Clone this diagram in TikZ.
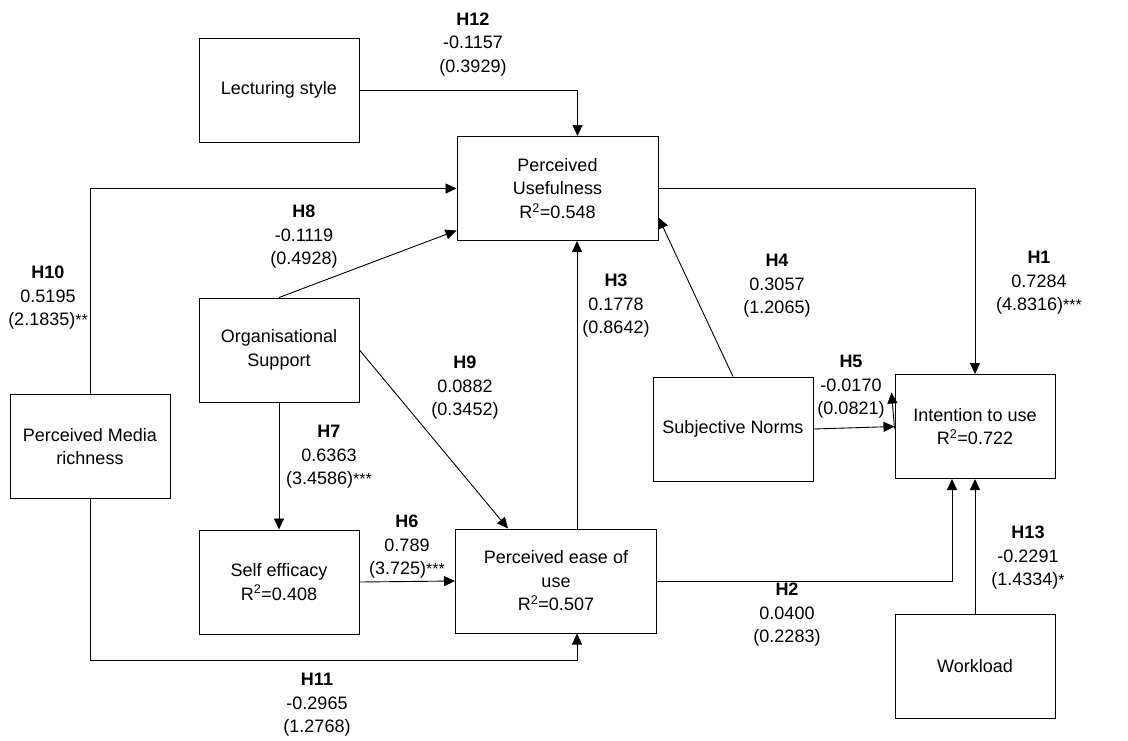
\documentclass[tikz,border=0pt]{standalone}
\usepackage{fontspec}
\setmainfont{Liberation Sans}
\usepackage{tikz}
\usetikzlibrary{positioning, arrows.meta}
\tikzset{
    x=1pt, y=-1pt, % one unit is one pixel, y runs downwards
    >={Triangle[length=11pt, width=10pt]}, % filled arrow heads
}
\tikzset{construct/.style={
        rectangle, draw=black, line width=1pt, minimum width=160pt, minimum height=104pt,
        align=center, inner sep=2pt, font=\fontsize{18}{23.5}\selectfont,
    }
}
\tikzset{wideconstruct/.style={construct, minimum width=201pt}}
\tikzset{hyp/.style={align=center, inner sep=0pt, font=\fontsize{18}{23.5}\selectfont}}
\tikzset{link/.style={->, line width=0.9pt}}
\newcommand{\Rsq}[1]{R\textsuperscript{2}=#1}
\newcommand{\sig}[1]{{\fontsize{16}{16}\selectfont #1}}

\begin{document}
\begin{tikzpicture}
        \useasboundingbox (0,0) rectangle (1128,740);
        % Nodes
        \node[construct] (LS) at (279,90) {Lecturing style};
        \node[wideconstruct] (PU) at (557.5,188.5) {Perceived\\Usefulness\\\Rsq{0.548}};
        \node[construct] (OS) at (279,350) {Organisational\\Support};
        \node[construct] (PMR) at (90,446.5) {Perceived Media\\richness};
        \node[construct, below=127pt of OS] (SE) {Self efficacy\\\Rsq{0.408}};
        \node[wideconstruct] (PEU) at (556,581) {Perceived ease of\\use\\\Rsq{0.507}};
        \node[construct] (SN) at (733,429) {Subjective Norms};
        \node[construct] (IU) at (975,426.5) {Intention to use\\\Rsq{0.722}};
        \node[construct, below=135pt of IU] (WL) {Workload};

        % Hypothesis labels
        \node[hyp] (H12) at (473,44.5) {\textbf{H12}\\-0.1157\\(0.3929)};
        \node[hyp] (H8) at (304,237) {\textbf{H8}\\-0.1119\\(0.4928)};
        \node[hyp] (H10) at (48,298) {\textbf{H10}\\0.5195\\(2.1835)\sig{**}};
        \node[hyp] (H9) at (465,388) {\textbf{H9}\\0.0882\\(0.3452)};
        \node[hyp] (H3) at (616,306) {\textbf{H3}\\0.1778\\(0.8642)};
        \node[hyp] (H4) at (777,286) {\textbf{H4}\\0.3057\\(1.2065)};
        \node[hyp] (H1) at (1039,283) {\textbf{H1}\\0.7284\\(4.8316)\sig{***}};
        \node[hyp] (H7) at (329,457) {\textbf{H7}\\0.6363\\(3.4586)\sig{***}};
        \node[hyp] (H6) at (407,547) {\textbf{H6}\\0.789\\(3.725)\sig{***}};
        \node[hyp] (H5) at (851,387) {\textbf{H5}\\-0.0170\\(0.0821)};
        \node[hyp] (H2) at (787,615) {\textbf{H2}\\0.0400\\(0.2283)};
        \node[hyp] (H13) at (1028,558) {\textbf{H13}\\-0.2291\\(1.4334)\sig{*}};
        \node[hyp] (H11) at (317,705) {\textbf{H11}\\-0.2965\\(1.2768)};

        % Draw lines
        \draw[link] (LS.east) -| ([xshift=20pt]PU.north);
        \draw[link] (PMR.north) |- (PU.west);
        \draw[link] (OS.north) -- ([yshift=-42pt]PU.west);
        \draw[link] (OS.east) -- ([xshift=-48pt]PEU.north);
        \draw[link] (OS.south) -- (SE.north);
        \draw[link] (SE.east) -- (PEU.west);
        \draw[link] (PMR.south) -- ++(0,161) -| ([xshift=21pt]PEU.south);
        \draw[link] ([xshift=21pt]PEU.north) -- ([xshift=21pt]PEU.north |- PU.south);
        \draw[link] (SN.north) -- ([yshift=-29pt]PU.east);
        \draw[link] (PU.east) -| (IU.north);
        \draw[link] (SN.east) -- (IU.west);
        \draw[link] ([yshift=-2pt]IU.west) -- ++(-3,-36);
        \draw[link] (PEU.east) -| ([xshift=-23pt]IU.south);
        \draw[link] (WL.north) -- (IU.south);
    \end{tikzpicture}
\end{document}
